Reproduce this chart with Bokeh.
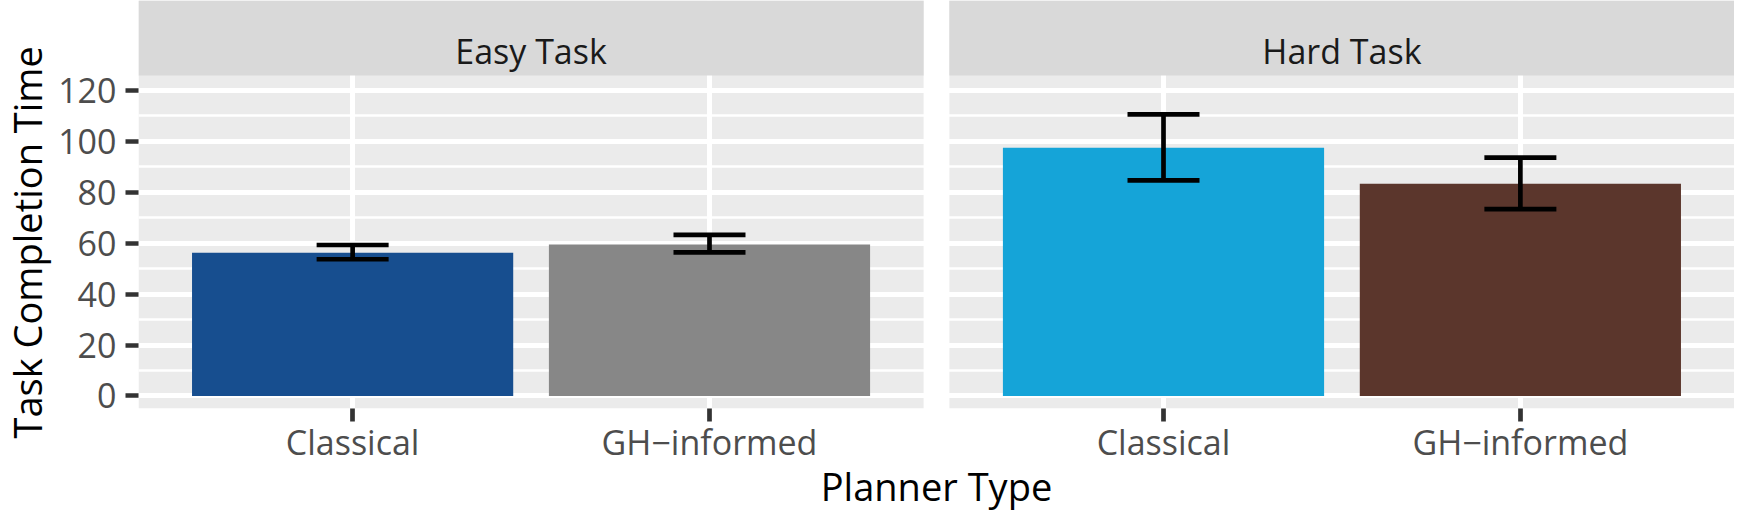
from bokeh.plotting import figure
from bokeh.layouts import row
from bokeh.models import (FactorRange, Range1d, FixedTicker, BoxAnnotation,
                          Whisker, TeeHead, ColumnDataSource, Label, Title)
from bokeh.embed import file_html
from bokeh.resources import INLINE

# ---- data ----
tasks = ["Easy Task", "Hard Task"]
planners = ["Classical", "GH\u2212informed"]
mean_time = [56.3, 59.5, 97.5, 83.4]
err_lower = [53.7, 56.4, 84.7, 73.4]
err_upper = [59.3, 63.3, 110.6, 93.6]
bar_colors = ["#174E8F", "#878787", "#15A4D8", "#5B362C"]
y_ticks = [0, 20, 40, 60, 80, 100, 120]
y_minor = [10, 30, 50, 70, 90, 110]
x_title = "Planner Type"
y_title = "Task Completion Time"

FONT = "Open Sans"
factors = [(t, pl) for t in tasks for pl in planners]

# ---- layout parameters ----
W, H = 1734, 516
title_w = 55          # companion figure holding the y-axis title
border_left = 80      # main figure: room for y ticks/labels
border_bottom = 108   # main figure: room for x ticks/labels/title
pad = 0.1             # panel expansion beyond factor edges
gap_units = 0.0722    # white gap between facet panels
group_pad = 2 * pad + gap_units
panel_lo, panel_hi = -4.92, 125.92
y_top = 155.34        # top of strip area
strip_text_y = 135.6
n_per = len(planners)

x_range = FactorRange(factors=factors, factor_padding=0.0, group_padding=group_pad,
                      range_padding=pad, range_padding_units="absolute")
y_range = Range1d(panel_lo, y_top)

p = figure(x_range=x_range, y_range=y_range,
           width=W - title_w, height=H, output_backend="svg", toolbar_location=None,
           min_border_left=border_left, min_border_right=0, min_border_top=0,
           min_border_bottom=border_bottom, background_fill_color="white",
           border_fill_color="white", outline_line_color=None)

# panel backgrounds and strips
group_centers = []
for gi in range(len(tasks)):
    left = gi * (n_per + group_pad) - pad
    right = left + n_per + 2 * pad
    group_centers.append((left + right) / 2)
    p.add_layout(BoxAnnotation(left=left, right=right, fill_color="#EBEBEB",
                               fill_alpha=1.0, line_color=None, level="image"))
    p.add_layout(BoxAnnotation(left=left, right=right, bottom=panel_hi,
                               fill_color="#D9D9D9", fill_alpha=1.0,
                               line_color=None, level="annotation"))

src = ColumnDataSource(dict(x=factors, top=mean_time, lower=err_lower,
                            upper=err_upper, color=bar_colors))

p.vbar(x="x", top="top", bottom=0, width=0.9, source=src,
       fill_color="color", line_color=None)

tee = dict(size=72, line_width=4.7, line_color="black")
p.add_layout(Whisker(source=src, base="x", upper="upper", lower="lower",
                     dimension="height", line_width=4.7, line_color="black",
                     upper_head=TeeHead(**tee), lower_head=TeeHead(**tee),
                     level="annotation"))

# strip labels
for t, cx in zip(tasks, group_centers):
    p.add_layout(Label(x=cx, y=strip_text_y, text=t, text_align="center",
                       text_baseline="alphabetic", text_font=FONT,
                       text_font_size="34px", text_color="#1A1A1A",
                       level="overlay"))

# grids
p.xgrid.grid_line_color = "white"
p.xgrid.grid_line_width = 5
p.ygrid.grid_line_color = "white"
p.ygrid.grid_line_width = 5
p.ygrid.minor_grid_line_color = "white"
p.ygrid.minor_grid_line_width = 2.5

# axes
p.yaxis.ticker = FixedTicker(ticks=y_ticks, minor_ticks=y_minor)
for ax in (p.xaxis[0], p.yaxis[0]):
    ax.axis_line_color = None
    ax.major_tick_line_color = "#333333"
    ax.major_tick_line_width = 4.7
    ax.major_tick_out = 13
    ax.major_tick_in = 0
    ax.minor_tick_line_color = None
    ax.major_label_text_font = FONT
    ax.major_label_text_font_size = "34px"
    ax.major_label_text_color = "#4D4D4D"

p.yaxis.major_label_standoff = 9
p.xaxis.major_label_standoff = -3
p.xaxis.group_text_font_size = "0px"
p.xaxis.group_text_color = None
p.xaxis.separator_line_color = None
p.xaxis.axis_label = x_title
p.xaxis.axis_label_standoff = -8
p.xaxis.axis_label_text_font = FONT
p.xaxis.axis_label_text_font_size = "38px"
p.xaxis.axis_label_text_font_style = "normal"
p.xaxis.axis_label_text_color = "black"

# y-axis title: a Title in the side panel of a narrow companion figure
pt = figure(width=title_w, height=H, x_range=Range1d(0, 1), y_range=y_range,
            output_backend="svg", toolbar_location=None,
            x_axis_location=None, y_axis_location=None,
            min_border_left=0, min_border_right=0, min_border_top=0,
            min_border_bottom=border_bottom, background_fill_color="white",
            border_fill_color="white", outline_line_color=None)
pt.grid.visible = False
pt.add_layout(Title(text=y_title, align="left", offset=-30, vertical_align="top",
                    standoff=0, text_font=FONT, text_font_size="38px",
                    text_font_style="normal", text_color="black"), "left")

layout = row(pt, p, spacing=0)
open("out.html", "w").write(file_html(layout, INLINE))
